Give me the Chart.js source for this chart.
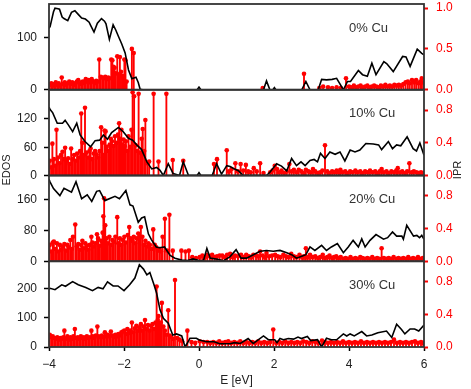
<!DOCTYPE html>
<html>
<head>
<meta charset="utf-8">
<script src="https://cdn.jsdelivr.net/npm/chart.js@4.4.0/dist/chart.umd.min.js"></script>
<style>
  html, body { margin: 0; padding: 0; background: #fff; }
  #wrap { width: 471px; height: 389px; }
</style>
</head>
<body>
<div id="wrap"><canvas id="dos-chart"></canvas></div>
<script>
// panel labels and axis ranges
const panelLabels = ['0% Cu', '10% Cu', '20% Cu', '30% Cu'];
const edosMax = [165, 182, 222, 295];
const iprMax = [1.05, 1.05, 1.05, 1.05];
const edosTicks = [[0, 100], [0, 60, 120], [0, 80, 160], [0, 100, 200]];
const iprTicks = [[0, 0.5, 1.0], [0, 0.4, 0.8], [0, 0.4, 0.8], [0, 0.4, 0.8]];
const xTicks = [-4, -2, 0, 2, 4, 6];

// EDOS curves, [E, EDOS]
const edos0 = [[-4.0,118],[-3.97,122],[-3.88,150],[-3.84,157],[-3.76,156],[-3.72,155],[-3.65,140],[-3.6,137],[-3.5,133],[-3.4,149],[-3.31,152],[-3.22,145],[-3.13,138],[-3.03,136],[-2.93,130],[-2.89,124],[-2.8,111],[-2.71,128],[-2.6,137],[-2.52,132],[-2.48,127],[-2.39,97],[-2.29,125],[-2.22,115],[-2.15,103],[-2.06,88],[-1.97,71],[-1.88,38],[-1.79,21],[-1.68,24],[-1.62,14],[-1.57,1],[-1.5,0],[-0.05,0],[0.0,5],[0.05,0],[1.72,0],[1.8,17],[1.89,0],[1.97,0],[2.01,4],[2.05,0],[2.74,0],[2.85,16],[2.96,0],[3.18,0],[3.27,20],[3.4,19],[3.55,20],[3.67,22],[3.85,0],[3.96,16],[4.04,16],[4.25,37],[4.36,29],[4.49,26],[4.61,51],[4.72,29],[4.93,54],[5.01,50],[5.18,35],[5.43,64],[5.52,63],[5.63,45],[5.82,78],[5.94,70],[6.0,67]];
const edos1 = [[-4.0,145],[-3.97,140],[-3.9,133],[-3.78,111],[-3.64,111],[-3.57,117],[-3.48,107],[-3.37,93],[-3.26,111],[-3.17,86],[-3.04,72],[-2.89,61],[-2.77,74],[-2.65,75],[-2.55,86],[-2.44,77],[-2.33,91],[-2.15,102],[-2.02,93],[-1.88,79],[-1.77,75],[-1.66,65],[-1.53,55],[-1.39,29],[-1.26,14],[-1.13,17],[-1.04,11],[-0.95,0],[-0.82,25],[-0.69,4],[-0.52,0],[-0.42,29],[-0.28,0],[-0.05,0],[0.0,6],[0.05,0],[0.35,0],[0.47,25],[0.6,3],[0.74,21],[0.83,19],[0.92,15],[1.05,10],[1.18,0],[1.8,0],[1.89,7],[2.07,25],[2.2,20],[2.34,10],[2.47,36],[2.6,21],[2.72,29],[2.83,21],[2.96,32],[3.07,34],[3.16,29],[3.24,47],[3.36,36],[3.49,50],[3.63,45],[3.76,50],[3.89,31],[4.03,54],[4.16,50],[4.29,54],[4.45,68],[4.65,67],[4.79,65],[4.87,55],[5.05,72],[5.16,57],[5.27,65],[5.38,63],[5.55,82],[5.71,57],[5.8,52],[5.89,69],[6.0,43]];
const edos2 = [[-4.0,212],[-3.97,205],[-3.88,188],[-3.71,170],[-3.6,189],[-3.4,179],[-3.28,206],[-3.13,162],[-2.98,172],[-2.86,155],[-2.73,181],[-2.65,183],[-2.51,157],[-2.24,168],[-2.12,162],[-1.95,183],[-1.84,146],[-1.76,143],[-1.62,101],[-1.53,112],[-1.45,115],[-1.35,71],[-1.27,56],[-1.14,37],[-1.05,35],[-0.92,37],[-0.77,15],[-0.64,8],[-0.46,3],[-0.3,2],[-0.16,6],[0.0,2],[0.12,2],[0.21,33],[0.3,8],[0.5,5],[0.65,1],[0.83,12],[0.99,30],[1.12,8],[1.27,8],[1.45,17],[1.63,26],[1.8,28],[1.98,26],[2.16,28],[2.34,22],[2.47,17],[2.6,8],[2.74,13],[2.85,17],[2.96,37],[3.09,28],[3.27,41],[3.4,28],[3.53,37],[3.69,46],[3.85,22],[3.98,37],[4.11,54],[4.25,37],[4.34,58],[4.43,37],[4.56,54],[4.72,69],[4.92,57],[5.03,61],[5.16,76],[5.27,65],[5.41,65],[5.45,57],[5.54,93],[5.72,65],[5.81,67],[5.88,61],[5.94,67],[6.0,57]];
const edos3 = [[-4.0,198],[-3.97,202],[-3.84,197],[-3.66,214],[-3.56,209],[-3.37,225],[-3.22,214],[-3.02,205],[-2.84,194],[-2.69,205],[-2.56,200],[-2.44,224],[-2.29,210],[-2.16,210],[-2.0,194],[-1.85,214],[-1.71,237],[-1.59,283],[-1.48,268],[-1.39,248],[-1.31,256],[-1.2,214],[-1.13,185],[-1.04,128],[-0.95,99],[-0.82,82],[-0.7,41],[-0.6,45],[-0.46,38],[-0.37,0],[-0.24,30],[-0.07,30],[0.01,24],[0.2,18],[0.4,18],[0.55,11],[0.7,11],[0.83,11],[0.95,15],[1.1,12],[1.31,29],[1.45,12],[1.72,38],[1.85,25],[2.02,25],[2.08,15],[2.16,29],[2.25,25],[2.38,29],[2.52,27],[2.64,34],[2.73,29],[2.89,36],[2.98,22],[3.16,25],[3.27,0],[3.4,30],[3.53,25],[3.67,25],[3.85,45],[3.94,38],[4.03,45],[4.14,38],[4.34,53],[4.47,38],[4.61,41],[4.77,49],[5.0,55],[5.14,33],[5.27,78],[5.4,60],[5.49,45],[5.63,62],[5.75,62],[5.86,55],[6.0,76]];

// IPR of each eigenstate, [E, IPR]
const ipr0 = [[-3.98,0.06],[-3.94,0.08],[-3.9,0.05],[-3.86,0.07],[-3.82,0.09],[-3.78,0.06],[-3.74,0.08],[-3.7,0.05],[-3.66,0.15],[-3.62,0.07],[-3.58,0.09],[-3.54,0.06],[-3.5,0.08],[-3.46,0.1],[-3.42,0.07],[-3.38,0.09],[-3.34,0.06],[-3.3,0.08],[-3.26,0.1],[-3.22,0.12],[-3.18,0.07],[-3.14,0.09],[-3.1,0.1],[-3.06,0.08],[-3.02,0.13],[-2.98,0.1],[-2.94,0.12],[-2.9,0.09],[-2.86,0.13],[-2.82,0.1],[-2.78,0.08],[-2.74,0.11],[-2.7,0.1],[-2.66,0.37],[-2.62,0.16],[-2.58,0.15],[-2.54,0.14],[-2.5,0.16],[-2.46,0.13],[-2.42,0.15],[-2.38,0.14],[-2.34,0.37],[-2.31,0.36],[-2.28,0.28],[-2.25,0.27],[-2.22,0.2],[-2.18,0.41],[-2.14,0.19],[-2.11,0.4],[-2.08,0.22],[-2.05,0.17],[-2.02,0.15],[-1.99,0.37],[-1.96,0.36],[-1.93,0.1],[-1.79,0.5],[-1.74,0.45],
  [1.7,0.02],[2.8,0.195],[3.21,0.02],[3.31,0.04],[3.44,0.03],[3.55,0.02],[3.67,0.03],[3.78,0.02],[3.92,0.14],[4.0,0.04],[4.07,0.03],[4.13,0.05],[4.19,0.03],[4.25,0.04],[4.31,0.05],[4.37,0.03],[4.43,0.04],[4.49,0.05],[4.55,0.03],[4.61,0.04],[4.67,0.05],[4.73,0.04],[4.79,0.03],[4.85,0.05],[4.91,0.04],[4.97,0.06],[5.03,0.04],[5.09,0.05],[5.15,0.04],[5.21,0.06],[5.27,0.05],[5.33,0.06],[5.39,0.05],[5.45,0.07],[5.51,0.09],[5.57,0.1],[5.62,0.08],[5.68,0.12],[5.74,0.09],[5.79,0.12],[5.85,0.08],[5.9,0.1],[5.94,0.14],[5.98,0.09]];
const ipr1 = [[-3.98,0.18],[-3.94,0.1],[-3.91,0.39],[-3.87,0.2],[-3.83,0.12],[-3.8,0.56],[-3.76,0.22],[-3.72,0.15],[-3.68,0.25],[-3.64,0.29],[-3.6,0.2],[-3.57,0.34],[-3.53,0.18],[-3.49,0.21],[-3.45,0.14],[-3.41,0.33],[-3.37,0.2],[-3.33,0.25],[-3.29,0.18],[-3.25,0.27],[-3.21,0.22],[-3.17,0.3],[-3.14,0.76],[-3.11,0.4],[-3.07,0.25],[-3.04,0.83],[-3.0,0.28],[-2.96,0.22],[-2.92,0.3],[-2.89,0.33],[-2.85,0.2],[-2.81,0.27],[-2.77,0.3],[-2.73,0.26],[-2.69,0.22],[-2.65,0.3],[-2.61,0.59],[-2.58,0.4],[-2.55,0.25],[-2.52,0.55],[-2.49,0.54],[-2.46,0.35],[-2.42,0.3],[-2.38,0.38],[-2.35,0.45],[-2.32,0.42],[-2.28,0.36],[-2.24,0.48],[-2.2,0.4],[-2.16,0.5],[-2.13,0.64],[-2.1,0.45],[-2.07,0.56],[-2.04,0.38],[-2.01,0.44],[-1.98,0.36],[-1.95,0.42],[-1.91,0.3],[-1.88,0.48],[-1.84,0.35],[-1.8,0.56],[-1.77,1.02],[-1.73,0.97],[-1.69,0.37],[-1.65,0.3],[-1.61,1.0],[-1.57,0.28],[-1.53,0.45],[-1.5,0.57],[-1.46,0.3],[-1.43,0.68],[-1.38,0.15],[-1.33,0.17],[-1.21,1.0],[-1.08,0.17],[-0.87,1.0],[-0.7,0.19],[-0.42,0.18],
  [0.4,0.14],[0.48,0.2],[0.74,0.31],[0.8,0.05],[0.87,0.08],[0.97,0.15],[1.04,0.05],[1.11,0.14],[1.18,0.06],[1.25,0.13],[1.31,0.05],[1.38,0.04],[1.46,0.09],[1.54,0.05],[1.63,0.15],[1.72,0.03],[1.9,0.04],[1.96,0.06],[2.02,0.12],[2.08,0.08],[2.14,0.04],[2.2,0.06],[2.27,0.03],[2.34,0.05],[2.41,0.14],[2.47,0.05],[2.53,0.07],[2.6,0.04],[2.66,0.07],[2.73,0.05],[2.79,0.03],[2.85,0.07],[2.92,0.05],[2.98,0.04],[3.04,0.08],[3.1,0.05],[3.17,0.03],[3.23,0.04],[3.29,0.06],[3.36,0.37],[3.42,0.05],[3.48,0.03],[3.55,0.05],[3.61,0.04],[3.67,0.06],[3.73,0.04],[3.77,0.07],[3.83,0.04],[3.9,0.05],[3.96,0.03],[4.03,0.05],[4.1,0.04],[4.17,0.06],[4.23,0.04],[4.3,0.05],[4.36,0.03],[4.43,0.05],[4.5,0.04],[4.56,0.06],[4.63,0.04],[4.7,0.05],[4.76,0.03],[4.82,0.05],[4.87,0.08],[4.93,0.04],[5.0,0.05],[5.06,0.03],[5.13,0.05],[5.2,0.04],[5.26,0.06],[5.3,0.09],[5.36,0.04],[5.42,0.05],[5.49,0.03],[5.55,0.05],[5.61,0.15],[5.67,0.04],[5.73,0.05],[5.8,0.04],[5.86,0.03],[5.92,0.04],[5.98,0.03]];
const ipr2 = [[-3.98,0.2],[-3.94,0.12],[-3.9,0.23],[-3.87,0.24],[-3.83,0.15],[-3.79,0.22],[-3.75,0.12],[-3.71,0.2],[-3.67,0.14],[-3.63,0.18],[-3.59,0.21],[-3.55,0.13],[-3.51,0.2],[-3.47,0.17],[-3.43,0.26],[-3.39,0.15],[-3.36,0.3],[-3.3,0.45],[-3.26,0.18],[-3.22,0.21],[-3.18,0.14],[-3.14,0.2],[-3.11,0.25],[-3.07,0.16],[-3.03,0.22],[-2.99,0.19],[-2.95,0.14],[-2.91,0.2],[-2.87,0.3],[-2.84,0.23],[-2.8,0.18],[-2.76,0.22],[-2.72,0.33],[-2.69,0.28],[-2.65,0.19],[-2.61,0.25],[-2.57,0.35],[-2.55,0.55],[-2.53,0.77],[-2.5,0.44],[-2.47,0.28],[-2.43,0.22],[-2.39,0.3],[-2.35,0.2],[-2.31,0.26],[-2.27,0.24],[-2.23,0.3],[-2.18,0.54],[-2.15,0.22],[-2.11,0.28],[-2.07,0.2],[-2.03,0.26],[-1.99,0.3],[-1.95,0.23],[-1.9,0.32],[-1.86,0.42],[-1.82,0.28],[-1.78,0.25],[-1.74,0.3],[-1.7,0.22],[-1.66,0.28],[-1.62,0.34],[-1.58,0.3],[-1.55,0.42],[-1.51,0.3],[-1.47,0.2],[-1.43,0.25],[-1.39,0.18],[-1.35,0.22],[-1.31,0.2],[-1.27,0.15],[-1.22,0.39],[-1.18,0.2],[-1.14,0.17],[-1.1,0.13],[-1.05,0.15],[-1.01,0.12],[-0.97,0.3],[-0.91,0.52],[-0.85,0.13],[-0.79,0.57],[-0.7,0.13],
  [-0.47,0.13],[-0.36,0.12],[-0.27,0.13],[-0.18,0.05],[-0.08,0.04],[0.02,0.05],[0.09,0.07],[0.16,0.05],[0.22,0.08],[0.29,0.06],[0.35,0.08],[0.42,0.05],[0.48,0.06],[0.55,0.07],[0.62,0.07],[0.69,0.05],[0.75,0.08],[0.83,0.09],[0.9,0.05],[0.96,0.07],[1.04,0.06],[1.12,0.08],[1.19,0.05],[1.26,0.08],[1.33,0.06],[1.39,0.05],[1.45,0.08],[1.52,0.07],[1.58,0.06],[1.63,0.12],[1.7,0.07],[1.76,0.05],[1.8,0.1],[1.87,0.06],[1.95,0.07],[2.03,0.08],[2.1,0.06],[2.17,0.05],[2.25,0.08],[2.32,0.06],[2.39,0.05],[2.46,0.09],[2.53,0.06],[2.6,0.05],[2.68,0.08],[2.75,0.05],[2.8,0.06],[2.85,0.16],[2.9,0.05],[2.96,0.08],[3.03,0.05],[3.1,0.06],[3.17,0.04],[3.23,0.05],[3.3,0.08],[3.36,0.04],[3.42,0.05],[3.48,0.07],[3.55,0.04],[3.6,0.05],[3.66,0.06],[3.72,0.04],[3.78,0.05],[3.85,0.03],[3.91,0.04],[3.97,0.03],[4.04,0.05],[4.1,0.03],[4.17,0.04],[4.23,0.03],[4.3,0.05],[4.36,0.04],[4.42,0.03],[4.49,0.04],[4.55,0.03],[4.62,0.05],[4.68,0.03],[4.75,0.04],[4.81,0.03],[4.87,0.16],[4.93,0.04],[5.0,0.03],[5.06,0.04],[5.13,0.03],[5.19,0.05],[5.26,0.03],[5.32,0.04],[5.39,0.03],[5.45,0.04],[5.52,0.03],[5.58,0.05],[5.65,0.03],[5.71,0.04],[5.78,0.03],[5.84,0.05],[5.91,0.03],[5.97,0.04]];
const ipr3 = [[-3.98,0.15],[-3.94,0.12],[-3.9,0.13],[-3.86,0.11],[-3.82,0.1],[-3.78,0.12],[-3.74,0.09],[-3.7,0.11],[-3.66,0.1],[-3.62,0.12],[-3.59,0.2],[-3.55,0.1],[-3.51,0.13],[-3.47,0.09],[-3.43,0.12],[-3.39,0.1],[-3.35,0.13],[-3.31,0.22],[-3.27,0.11],[-3.23,0.12],[-3.19,0.1],[-3.15,0.13],[-3.11,0.11],[-3.07,0.12],[-3.03,0.1],[-2.99,0.13],[-2.95,0.11],[-2.91,0.12],[-2.87,0.2],[-2.83,0.13],[-2.79,0.11],[-2.75,0.14],[-2.71,0.25],[-2.67,0.13],[-2.63,0.12],[-2.59,0.14],[-2.55,0.12],[-2.51,0.18],[-2.47,0.13],[-2.43,0.15],[-2.39,0.13],[-2.35,0.19],[-2.31,0.14],[-2.27,0.12],[-2.23,0.15],[-2.19,0.13],[-2.15,0.16],[-2.11,0.14],[-2.07,0.18],[-2.03,0.19],[-1.99,0.2],[-1.95,0.16],[-1.91,0.22],[-1.87,0.17],[-1.83,0.2],[-1.79,0.3],[-1.75,0.18],[-1.71,0.23],[-1.67,0.26],[-1.63,0.2],[-1.59,0.24],[-1.55,0.28],[-1.51,0.2],[-1.47,0.25],[-1.44,0.33],[-1.4,0.22],[-1.36,0.27],[-1.32,0.2],[-1.28,0.26],[-1.24,0.28],[-1.2,0.22],[-1.16,0.3],[-1.13,0.74],[-1.1,0.33],[-1.08,0.38],[-1.05,0.28],[-1.02,0.3],[-0.99,0.54],[-0.95,0.25],[-0.91,0.2],[-0.87,0.15],[-0.82,0.45],[-0.78,0.14],[-0.74,0.12],[-0.69,0.1],[-0.64,0.82],[-0.58,0.11],[-0.52,0.09],[-0.45,0.07],[-0.31,0.2],
  [-0.2,0.06],[-0.1,0.05],[0.02,0.07],[0.12,0.06],[0.22,0.06],[0.3,0.05],[0.38,0.06],[0.46,0.05],[0.54,0.07],[0.62,0.05],[0.7,0.06],[0.78,0.07],[0.86,0.05],[0.94,0.06],[1.02,0.05],[1.1,0.07],[1.18,0.05],[1.26,0.06],[1.34,0.05],[1.42,0.06],[1.5,0.05],[1.58,0.07],[1.66,0.05],[1.74,0.06],[1.82,0.05],[1.9,0.06],[1.98,0.215],[2.06,0.05],[2.14,0.06],[2.22,0.05],[2.3,0.07],[2.38,0.05],[2.46,0.06],[2.54,0.05],[2.62,0.06],[2.7,0.05],[2.78,0.07],[2.86,0.06],[2.94,0.05],[3.02,0.07],[3.1,0.06],[3.18,0.05],[3.28,0.08],[3.36,0.06],[3.44,0.05],[3.52,0.06],[3.6,0.05],[3.68,0.06],[3.76,0.05],[3.84,0.07],[3.92,0.05],[4.0,0.06],[4.08,0.05],[4.16,0.06],[4.24,0.05],[4.32,0.07],[4.4,0.05],[4.48,0.06],[4.56,0.05],[4.64,0.06],[4.72,0.05],[4.8,0.06],[4.88,0.05],[4.96,0.06],[5.04,0.05],[5.12,0.06],[5.2,0.09],[5.28,0.05],[5.36,0.06],[5.44,0.05],[5.52,0.06],[5.6,0.05],[5.68,0.06],[5.76,0.07],[5.84,0.05],[5.92,0.06],[5.98,0.05]];

const edosSets = [edos0, edos1, edos2, edos3];
const iprSets = [ipr0, ipr1, ipr2, ipr3];
const toXY = arr => arr.map(p => ({ x: p[0], y: p[1] }));
const FONT = '"Liberation Sans", Arial, sans-serif';
Chart.defaults.font.family = FONT;

// no extra room for labels that hang over the plot ends
const noVPad = s => { s.paddingTop = 0; s.paddingBottom = 0; };

const datasets = [];
const scales = {
  x: {
    type: 'linear', position: 'bottom', min: -4, max: 6, offset: false,
    afterBuildTicks: s => { s.ticks = xTicks.map(v => ({ value: v })); },
    afterFit: s => { s.height = 42; s.paddingLeft = 0; s.paddingRight = 0; },
    border: { display: false },
    grid: { offset: false, drawOnChartArea: false, tickLength: 4, tickColor: '#000', tickWidth: 1.5 },
    ticks: { color: '#222', font: { size: 12 }, padding: 6,
      callback: v => (v < 0 ? '\u2212' + Math.abs(v) : String(v)) },
    title: { display: true, text: 'E [eV]', color: '#222', font: { size: 12 }, padding: { top: 0, bottom: 1 } }
  }
};

panelLabels.forEach((label, i) => {
  datasets.push({ type: 'line', label: 'EDOS ' + label, data: toXY(edosSets[i]), yAxisID: 'e' + i,
    borderColor: '#000', borderWidth: 1.6, pointRadius: 0, tension: 0, order: 0 });
  datasets.push({ type: 'scatter', label: 'IPR ' + label, data: toXY(iprSets[i]), yAxisID: 'p' + i,
    backgroundColor: '#ff0000', borderColor: '#ff0000', borderWidth: 0, pointRadius: 2.3, order: 1 });
  datasets.push({ type: 'bar', label: 'IPR stem ' + label, data: toXY(iprSets[i]), yAxisID: 'p' + i,
    backgroundColor: '#ff0000', barThickness: 1.2, grouped: false, order: 2 });

  scales['e' + i] = {
    type: 'linear', position: 'left', stack: 'edos', stackWeight: 1, weight: 4 - i,
    min: 0, max: edosMax[i],
    afterBuildTicks: s => { s.ticks = edosTicks[i].map(v => ({ value: v })); },
    afterFit: s => { s.width = 49; noVPad(s); },
    border: { display: false },
    grid: { drawOnChartArea: false, tickLength: 5, tickColor: '#000', tickWidth: 1.5 },
    ticks: { color: '#222', font: { size: 12 }, padding: 7 }
  };
  scales['p' + i] = {
    type: 'linear', position: 'right', stack: 'ipr', stackWeight: 1, weight: i,
    min: 0, max: iprMax[i],
    afterBuildTicks: s => { s.ticks = iprTicks[i].map(v => ({ value: v })); },
    afterFit: s => { s.width = 47; noVPad(s); },
    border: { display: false },
    grid: { drawOnChartArea: false, tickLength: 4, tickColor: '#ff0000', tickWidth: 2 },
    ticks: { color: '#ff0000', font: { size: 12 }, padding: 8, callback: v => v.toFixed(1) }
  };
});

// panel frames, panel captions and the shared axis titles
const framePlugin = {
  id: 'panelFrames',
  afterDraw(chart) {
    const { ctx, chartArea } = chart;
    const xs = chart.scales.x;
    ctx.save();
    ctx.strokeStyle = '#333';
    ctx.lineWidth = 1.8;
    ctx.fillStyle = '#333';
    ctx.font = '13px ' + FONT;
    ctx.textBaseline = 'middle';
    ctx.textAlign = 'left';
    panelLabels.forEach((label, i) => {
      const s = chart.scales['e' + i];
      ctx.strokeRect(chartArea.left, s.top, chartArea.right - chartArea.left, s.bottom - s.top);
      ctx.fillText(label, xs.getPixelForValue(4.0), s.top + 24);
    });
    ctx.font = '11px ' + FONT;
    ctx.textAlign = 'center';
    ctx.fillStyle = '#222';
    ctx.translate(7, 170);
    ctx.rotate(-Math.PI / 2);
    ctx.fillText('EDOS', 0, 0);
    ctx.restore();
    ctx.save();
    ctx.font = '11px ' + FONT;
    ctx.textAlign = 'center';
    ctx.textBaseline = 'middle';
    ctx.fillStyle = '#222';
    ctx.translate(458, 170);
    ctx.rotate(-Math.PI / 2);
    ctx.fillText('IPR', 0, 0);
    ctx.restore();
  }
};

new Chart(document.getElementById('dos-chart'), {
  type: 'scatter',
  data: { datasets: datasets },
  options: {
    responsive: true,
    maintainAspectRatio: false,
    animation: false,
    layout: { padding: { top: 4, left: 0, right: 0, bottom: 0 } },
    plugins: { legend: { display: false }, tooltip: { enabled: false } },
    scales: scales
  },
  plugins: [framePlugin]
});
</script>
</body>
</html>
